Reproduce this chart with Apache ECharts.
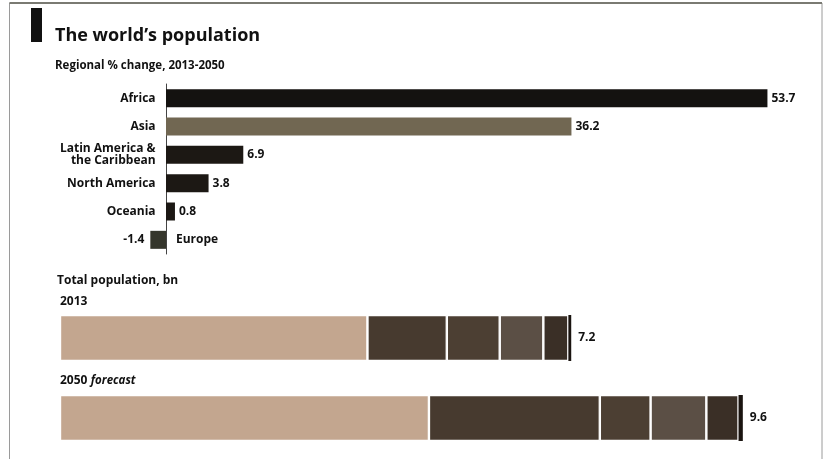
<!DOCTYPE html>
<html><head><meta charset="utf-8">
<script src="https://cdn.jsdelivr.net/npm/echarts@6/dist/echarts.min.js"></script>
<style>html,body{margin:0;padding:0;background:#fff}#c{width:826px;height:459px}</style>
</head><body><div id="c"></div>
<script>
// Regional % change, 2013-2050
const regions = ['Africa', 'Asia', 'Latin America &\nthe Caribbean', 'North America', 'Oceania', 'Europe'];
const changePct = [53.7, 36.2, 6.9, 3.8, 0.8, -1.4];
const changeColors = ['#141210', '#716752', '#1c1814', '#1c1814', '#1c1814', '#35362c'];

// Total population, bn (stack order: Asia, Africa, Europe, Latin America, North America, Oceania)
const years = ['2013', '2050'];
const stackNames = ['Asia', 'Africa', 'Europe', 'Latin America', 'North America', 'Oceania'];
const popAsia = [4.30, 5.16];
const popAfrica = [1.11, 2.39];
const popEurope = [0.74, 0.71];
const popLatAm = [0.61, 0.78];
const popNorthAm = [0.35, 0.45];
const popOceania = [0.04, 0.06];
const totals = ['7.2', '9.6'];
const stackColors = ['#c3a68f', '#473a2f', '#4c3f33', '#5b4f45', '#3a2f26', '#1a1410'];

const font = '"Open Sans", "DejaVu Sans", sans-serif';
const chart = echarts.init(document.getElementById('c'));

const stackData = [popAsia, popAfrica, popEurope, popLatAm, popNorthAm, popOceania];
const stackSeries = stackData.map((d, i) => ({
  type: 'bar', name: stackNames[i], stack: 'pop', xAxisIndex: 1, yAxisIndex: 1,
  data: d, barWidth: 46,
  itemStyle: { color: stackColors[i], borderColor: '#fff', borderWidth: i === 5 ? 0 : 1.2 },
  label: i === 5 ? {
    show: true, position: 'right', distance: 7,
    formatter: p => totals[p.dataIndex],
    fontFamily: font, fontWeight: 'bold', fontSize: 12, color: '#111'
  } : { show: false },
  silent: true, animation: false
}));

chart.setOption({
  animation: false,
  backgroundColor: '#fff',
  grid: [
    { left: 143.6, top: 84, width: 672, height: 170 },
    { left: 60, top: 298, width: 715, height: 160 }
  ],
  xAxis: [
    { gridIndex: 0, type: 'value', min: -2, max: 58, show: false, splitLine: { show: false } },
    { gridIndex: 1, type: 'value', min: 0, max: 10, show: false, splitLine: { show: false } }
  ],
  yAxis: [
    {
      gridIndex: 0, type: 'category', inverse: true, data: regions,
      axisLine: { show: true, onZero: true, lineStyle: { color: '#444', width: 1 } },
      axisTick: { show: false },
      axisLabel: {
        margin: -12, fontFamily: font, fontWeight: 'bold', fontSize: 12, color: '#111', lineHeight: 12,
        formatter: v => v === 'Europe' ? '' : v
      }
    },
    { gridIndex: 1, type: 'category', inverse: true, data: years, show: false }
  ],
  series: [
    {
      type: 'bar', xAxisIndex: 0, yAxisIndex: 0, barWidth: 18,
      data: changePct.map((v, i) => ({
        value: v, itemStyle: { color: changeColors[i] },
        label: v < 0 ? { position: 'left', distance: 6 } : undefined
      })),
      label: {
        show: true, position: 'right', distance: 4,
        fontFamily: font, fontWeight: 'bold', fontSize: 12, color: '#111',
        formatter: p => p.value.toFixed(1)
      },
      silent: true
    },
    {
      type: 'scatter', xAxisIndex: 0, yAxisIndex: 0, symbolSize: 0,
      data: [[0, 'Europe']],
      itemStyle: { opacity: 1 },
      label: {
        show: true, position: 'right', distance: 10, formatter: 'Europe',
        fontFamily: font, fontWeight: 'bold', fontSize: 12, color: '#111', opacity: 1
      },
      silent: true
    },
    ...stackSeries
  ],
  graphic: [
    { type: 'rect', shape: { x: 9.5, y: 3, width: 812.5, height: 470 }, style: { fill: 'none', stroke: '#9a9a9a', lineWidth: 1 }, silent: true },
    { type: 'rect', shape: { x: 9.5, y: 2, width: 812.5, height: 2 }, style: { fill: '#7a7a72' }, silent: true },
    { type: 'rect', shape: { x: 31, y: 8, width: 11, height: 34 }, style: { fill: '#111' }, silent: true },
    { type: 'text', style: { text: 'The world\u2019s population', x: 55, y: 36, font: 'bold 18px ' + font, fill: '#111', textVerticalAlign: 'middle', verticalAlign: 'middle' } },
    { type: 'text', style: { text: 'Regional % change, 2013-2050', x: 55, y: 66, font: 'bold 11.5px ' + font, fill: '#111', textVerticalAlign: 'middle', verticalAlign: 'middle' } },
    { type: 'text', style: { text: 'Total population, bn', x: 57, y: 281, font: 'bold 12px ' + font, fill: '#111', textVerticalAlign: 'middle', verticalAlign: 'middle' } },
    { type: 'text', style: { text: '2013', x: 60, y: 302, font: 'bold 12px ' + font, fill: '#111', textVerticalAlign: 'middle', verticalAlign: 'middle' } },
    { type: 'text', style: {
      text: '{a|2050} {b|forecast}', x: 60, y: 381, textVerticalAlign: 'middle', verticalAlign: 'middle',
      rich: {
        a: { fontFamily: font, fontWeight: 'bold', fontSize: 12, fill: '#111', color: '#111' },
        b: { fontFamily: font, fontWeight: 'bold', fontStyle: 'italic', fontSize: 11.5, fill: '#111', color: '#111' }
      }
    } }
  ]
});
</script>
</body></html>
